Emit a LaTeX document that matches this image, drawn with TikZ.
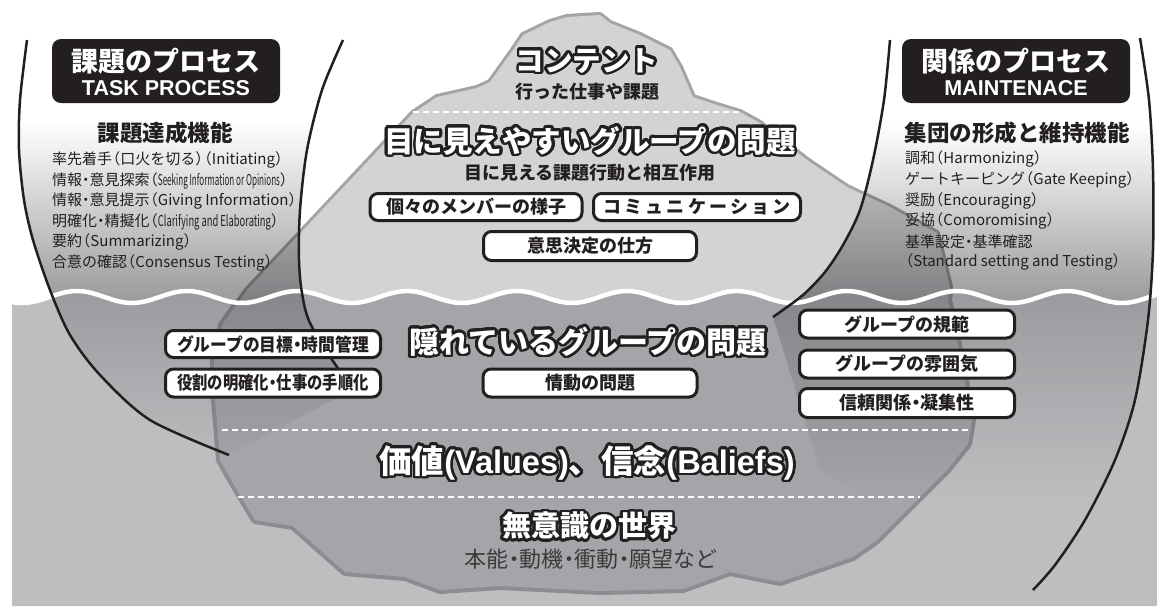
\documentclass[tikz,border=0pt]{standalone}
\usepackage{fontspec}
\usepackage{graphicx}
\usepackage[copies]{contour}
\setmainfont{Noto Sans CJK JP}
\newfontfamily\helv{Liberation Sans}
\definecolor{ink}{HTML}{231F20}
\definecolor{bergtop}{HTML}{D2D3D4}
\definecolor{bergtopedge}{HTML}{A3A4A6}
\definecolor{water}{HTML}{BDBEC0}
\definecolor{berg}{HTML}{A4A5A8}
\definecolor{bergedge}{HTML}{8C8D90}
\definecolor{lensdark}{HTML}{97989A}
\definecolor{lenssub}{HTML}{D0D0D2}
\definecolor{softink}{HTML}{3A3A3A}
\contourlength{2.6pt}
\contournumber{32}
\newcommand{\dotj}{\kern-.25em・\kern-.25em}
\newcommand{\lp}{\kern-.45em（}
\newcommand{\rp}{）\kern-.45em}
\newcommand{\outlined}[1]{\contour{ink}{#1}}
\usetikzlibrary{calc}
\tikzset{
  procbox/.style={fill=ink, rounded corners=9pt, minimum width=228pt, minimum height=64pt, inner sep=0pt},
  proctitle/.style={inner sep=0pt, text=white, font=\bfseries\fontsize{27}{29}\selectfont},
  procsub/.style={inner sep=0pt, text=white, font=\helv\bfseries\fontsize{21.5}{23}\selectfont},
  tagbox/.style={draw=ink, line width=3pt, fill=white, rounded corners=8pt, minimum height=27pt, inner sep=0pt, font=\bfseries\fontsize{18}{20}\selectfont, text=ink},
  listL/.style={anchor=west, inner sep=0pt, font=\fontsize{15}{17}\selectfont, text=ink},
  heading/.style={inner sep=0pt, font=\bfseries\fontsize{22.5}{24}\selectfont, text=ink},
  outl/.style={inner sep=0pt, text=white, font=\bfseries\fontsize{#1}{#1}\selectfont},
  subline/.style={inner sep=0pt, font=\bfseries\fontsize{18}{20}\selectfont, text=ink},
  lensline/.style={draw=ink, line width=2.5pt},
  dashline/.style={draw=white, line width=1.6pt, dash pattern=on 6pt off 4pt},
  wavepath/.style={insert path={plot[domain=12:1157,samples=240] (\x,{297+6*sin((\x+5.5)*3.2727)})}},
  belowwave/.style={insert path={(12,606) -- plot[domain=12:1157,samples=240] (\x,{297+6*sin((\x+5.5)*3.2727)}) -- (1157,606) -- cycle}},
  abovewave/.style={insert path={(0,0) -- (0,297) -- plot[domain=0:1157,samples=240] (\x,{297+6*sin((\x+5.5)*3.2727)}) -- (1157,0) -- cycle}},
  mountain/.style={insert path={(215,330) -- (222,325) -- (247,290) -- (413,113) -- (437,97) -- (477,88) -- (490,82) -- (513,50) -- (523,35) -- (550,22) -- (567,17) -- (600,15) -- (610,23) -- (640,35) -- (670,50) -- (680,67) -- (693,97) -- (717,105) -- (740,112) -- (760,123) -- (807,160) -- (847,187) -- (890,207) -- (937,233) -- (950,287) -- (952,330) -- cycle}},
  bergpath/.style={insert path={(250,286) -- (222,325) -- (214,360) -- (215,400) -- (220,460) -- (230,478) -- (255,520) -- (293,526) -- (345,572) -- (405,577) -- (440,590) -- (500,586) -- (600,591) -- (683,589) -- (730,572) -- (780,582) -- (853,557) -- (877,540) -- (920,497) -- (947,470) -- (968,444) -- (972,420) -- (965,380) -- (958,345) -- (948,300) -- (950,284) -- cycle}},
  leftlens/.style={insert path={plot[smooth] coordinates {(27,40) (20,100) (19,150) (24,200) (33,240) (50,290) (70,335) (100,375) (150,420) (229,455)} -- (355,388) -- plot[smooth] coordinates {(337,367) (310,323) (302,293) (299,260) (300,210) (307,150) (322,90) (343,40)} -- cycle}},
  rightlens/.style={insert path={plot[smooth] coordinates {(890,40) (884,100) (873,160) (860,210) (843,245) (825,272) (803,295) (773,317)} -- (820,470) -- plot[smooth] coordinates {(1033,590) (1055,565) (1085,520) (1115,460) (1135,400) (1148,320) (1153,250) (1153,170) (1149,100) (1140,38)} -- cycle}},
}
\begin{document}
\begin{tikzpicture}[x=1pt,y=-1pt]
\useasboundingbox (0,0) rectangle (1157,606);
\fill[white] (0,0) rectangle (1157,606);
% mountain above water
\draw[draw=bergtopedge, fill=bergtopedge, line width=6pt, line join=round, mountain];
\fill[bergtop, mountain];
% water
\fill[water, belowwave];
% berg under water
\begin{scope}
  \clip[belowwave];
  \draw[draw=bergedge, fill=bergedge, line width=8pt, line join=round, bergpath];
  \fill[berg, bergpath];
\end{scope}
% lens shading
\begin{scope}[blend mode=multiply]
  \begin{scope}
    \clip[abovewave];
    \clip[leftlens];
    \shade[top color=white, bottom color=lensdark] (0,122) rectangle (400,306);
  \end{scope}
  \begin{scope}
    \clip[belowwave];
    \clip[leftlens];
    \shade[top color=lenssub, bottom color=white] (0,288) rectangle (400,470);
  \end{scope}
  \begin{scope}
    \clip[abovewave];
    \clip[rightlens];
    \shade[top color=white, bottom color=lensdark] (760,125) rectangle (1160,306);
  \end{scope}
  \begin{scope}
    \clip[belowwave];
    \clip[rightlens];
    \shade[top color=lenssub, bottom color=white] (760,288) rectangle (1160,500);
  \end{scope}
\end{scope}
% dashed layer lines
\draw[dashline] (413,112) -- (743,112);
\draw[dashline] (222,430) -- (970,430);
\draw[dashline] (238,497) -- (920,497);
% water surface
\draw[white, line width=4.5pt, wavepath];
% lens outlines
\draw[lensline] plot[smooth] coordinates {(27,40) (20,100) (19,150) (24,200) (33,240) (50,290) (70,335) (100,375) (150,420) (229,455)};
\draw[lensline] plot[smooth] coordinates {(343,40) (322,90) (307,150) (300,210) (299,260) (302,293) (310,323) (337,367) (355,388)};
\draw[lensline] plot[smooth] coordinates {(890,40) (884,100) (873,160) (860,210) (843,245) (825,272) (803,295) (773,317)};
\draw[lensline] plot[smooth] coordinates {(1140,38) (1149,100) (1153,170) (1153,250) (1148,320) (1135,400) (1115,460) (1085,520) (1055,565) (1033,590)};
% left process
\node[procbox] (procL) at (166,71) {};
\node[proctitle] (procLj) at (166,61.5) {課題のプロセス};
\node[procsub] (procLe) at (166,88.5) {TASK PROCESS};
\node[heading] (headL) at (165,133) {課題達成機能};
\node[listL] (l1) at (52,160) {率先着手\lp 口火を切る\rp\lp Initiating\rp};
\node[listL] (l2) at (52,180.5) {情報\dotj 意見探索\lp\resizebox{122pt}{\height}{Seeking Information or Opinions}\rp};
\node[listL] (l3) at (52,201) {情報\dotj 意見提示\lp Giving Information\rp};
\node[listL] (l4) at (52,221.5) {明確化\dotj 精擬化\lp\resizebox{113pt}{\height}{Clarifying and Elaborating}\rp};
\node[listL] (l5) at (52,242) {要約\lp Summarizing\rp};
\node[listL] (l6) at (52,262.5) {合意の確認\lp Consensus Testing\rp};
% right process
\node[procbox] (procR) at (1016,71) {};
\node[proctitle] (procRj) at (1016,61.5) {関係のプロセス};
\node[procsub] (procRe) at (1016,88.5) {MAINTENACE};
\node[heading] (headR) at (1017,133) {集団の形成と維持機能};
\node[listL] (r1) at (905,159) {調和\lp Harmonizing\rp};
\node[listL] (r2) at (905,180) {ゲートキーピング\lp Gate Keeping\rp};
\node[listL] (r3) at (905,200.5) {奨励\lp Encouraging\rp};
\node[listL] (r4) at (905,221) {妥協\lp Comoromising\rp};
\node[listL] (r5) at (905,241.5) {基準設定\dotj 基準確認};
\node[listL] (r6) at (905,262) {\lp Standard setting and Testing\rp};
% visible part
\node[outl=28.5] (content) at (587,62) {\outlined{コンテント}};
\node[subline] (contentsub) at (587,92) {行った仕事や課題};
\node[outl=29.5] (visible) at (590,142) {\outlined{目に見えやすいグループの問題}};
\node[subline] (visiblesub) at (590,173) {目に見える課題行動と相互作用};
\node[tagbox, minimum width=212pt] (members) at (476,207) {個々のメンバーの様子};
\node[tagbox, minimum width=207pt] (comm) at (697,207) {\addfontfeatures{LetterSpace=18}コミュニケーション};
\node[tagbox, minimum width=213pt, minimum height=29pt] (decision) at (590,246) {意思決定の仕方};
% hidden part
\node[tagbox, minimum width=215pt] (goals) at (273,344) {\scalebox{0.93}[1]{グループの目標\dotj 時間管理}};
\node[tagbox, minimum width=215pt, minimum height=28pt] (roles) at (273,383) {\scalebox{0.85}[1]{役割の明確化\dotj 仕事の手順化}};
\node[outl=30] (hidden) at (588,343) {\outlined{隠れているグループの問題}};
\node[tagbox, minimum width=214pt, minimum height=28pt] (emotion) at (590,383) {情動の問題};
\node[tagbox, minimum width=215pt, minimum height=28pt] (norms) at (907,324) {グループの規範};
\node[tagbox, minimum width=215pt, minimum height=28pt] (climate) at (907,364) {グループの雰囲気};
\node[tagbox, minimum width=215pt, minimum height=29pt] (trust) at (907,403) {信頼関係\dotj 凝集性};
\node[outl=32.5] (values) at (587,464) {\outlined{価値{\helv\bfseries(Values)}、信念{\helv\bfseries(Baliefs)}}};
\node[outl=29] (unconscious) at (589,527) {\outlined{無意識の世界}};
\node[inner sep=0pt, text=softink, font=\fontsize{22}{24}\selectfont] (drives) at (591,559) {本能\dotj 動機\dotj 衝動\dotj 願望など};
\end{tikzpicture}
\end{document}
